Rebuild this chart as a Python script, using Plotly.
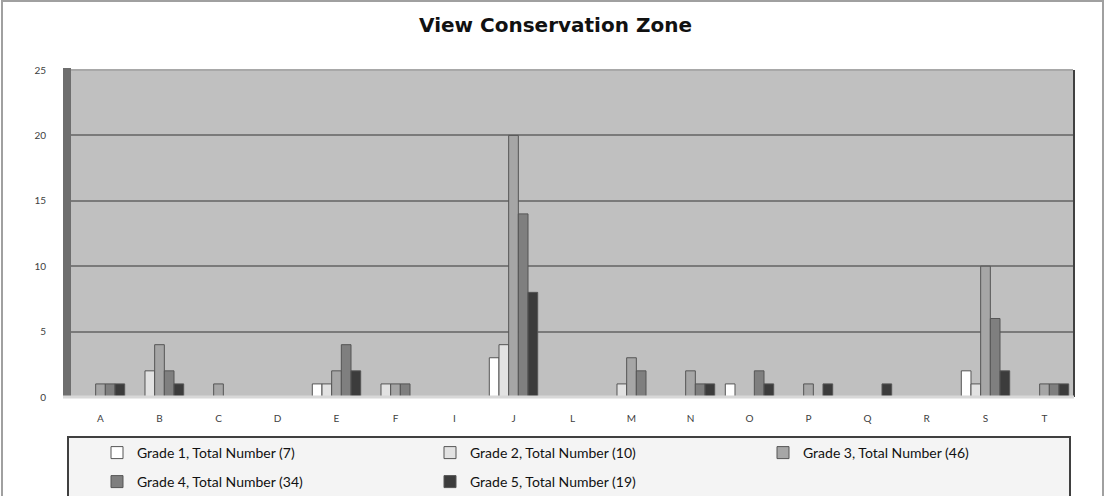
import plotly.graph_objects as go

categories = ["A", "B", "C", "D", "E", "F", "I", "J", "L", "M", "N", "O", "P", "Q", "R", "S", "T"]
grade1 = [0, 0, 0, 0, 1, 0, 0, 3, 0, 0, 0, 1, 0, 0, 0, 2, 0]
grade2 = [0, 2, 0, 0, 1, 1, 0, 4, 0, 1, 0, 0, 0, 0, 0, 1, 0]
grade3 = [1, 4, 1, 0, 2, 1, 0, 20, 0, 3, 2, 0, 1, 0, 0, 10, 1]
grade4 = [1, 2, 0, 0, 4, 1, 0, 14, 0, 2, 1, 2, 0, 0, 0, 6, 1]
grade5 = [1, 1, 0, 0, 2, 0, 0, 8, 0, 0, 1, 1, 1, 1, 0, 2, 1]
series_names = ["Grade 1, Total Number (7)", "Grade 2, Total Number (10)",
                "Grade 3, Total Number (46)", "Grade 4, Total Number (34)",
                "Grade 5, Total Number (19)"]
series_values = [grade1, grade2, grade3, grade4, grade5]
colors = ["#ffffff", "#e2e2e2", "#a6a6a6", "#7f7f7f", "#3c3c3c"]
legend_rows = ["legend", "legend", "legend", "legend2", "legend2"]
y_ticks = [0, 5, 10, 15, 20, 25]

W, H = 1111, 496
L, R, T, B = 71, 37, 70, 99

fig = go.Figure()
for name, vals, col, lg in zip(series_names, series_values, colors, legend_rows):
    fig.add_trace(go.Bar(
        x=categories, y=vals, name=name, legend=lg,
        marker=dict(color=col, line=dict(color="#555555", width=1)),
    ))

def px_x(p):
    return (p - L) / (W - L - R)

def px_y(p):
    return 1 - (p - T) / (H - T - B)

shapes = [
    # outer border
    dict(type="rect", xref="paper", yref="paper", x0=px_x(2), x1=px_x(1103), y0=px_y(500), y1=px_y(1),
         line=dict(color="#a0a0a0", width=2), fillcolor="rgba(0,0,0,0)", layer="below"),
    # left wall side
    dict(type="rect", xref="paper", yref="paper", x0=px_x(63), x1=px_x(71), y0=px_y(397), y1=px_y(68),
         line=dict(width=0), fillcolor="#6e6e6e", layer="above"),
    # top edge highlight
    dict(type="line", xref="paper", yref="paper", x0=px_x(71), x1=px_x(1073), y0=1, y1=1,
         line=dict(color="#a8a8a8", width=2)),
    # right edge dark line
    dict(type="line", xref="paper", yref="paper", x0=1, x1=1, y0=0, y1=1,
         line=dict(color="#404040", width=2)),
    # floor
    dict(type="line", xref="paper", yref="paper", x0=px_x(63), x1=1, y0=0, y1=0,
         line=dict(color="#d8d8d8", width=3)),
    # legend box
    dict(type="rect", xref="paper", yref="paper", x0=px_x(68), x1=px_x(1070), y0=px_y(500), y1=px_y(437),
         line=dict(color="#404040", width=2), fillcolor="#f4f4f4", layer="below"),
]

legend_common = dict(orientation="h", xanchor="left", yanchor="top",
                     entrywidth=288, entrywidthmode="pixels", bgcolor="rgba(0,0,0,0)",
                     font=dict(family="Lato", size=14, color="#111111"),
                     itemwidth=30, traceorder="normal")

fig.update_layout(
    width=W, height=H,
    margin=dict(l=L, r=R, t=T, b=B, autoexpand=False),
    paper_bgcolor="white",
    plot_bgcolor="#c0c0c0",
    font=dict(family="Lato", color="#404040"),
    title=dict(text="<b>View Conservation Zone</b>", x=0.5, xanchor="center",
               y=1 - 25 / H, yanchor="middle", yref="container",
               font=dict(family="DejaVu Sans", size=20, color="#111111")),
    barmode="group", bargap=0.18, bargroupgap=0,
    showlegend=True,
    legend=dict(x=px_x(97), y=px_y(437), **legend_common),
    legend2=dict(x=px_x(97), y=px_y(466), **legend_common),
    shapes=shapes,
)
fig.update_yaxes(range=[0, 25], tickvals=y_ticks, showgrid=True, gridcolor="#7a7a7a", gridwidth=1.5,
                 zeroline=False, showline=False, ticks="outside", ticklen=22, tickcolor="rgba(0,0,0,0)",
                 tickfont=dict(size=10, color="#404040"))
fig.update_xaxes(showgrid=False, showline=False, ticks="outside", ticklen=12, tickcolor="rgba(0,0,0,0)",
                 tickfont=dict(size=10, color="#404040"))

fig.write_html("out.html")
